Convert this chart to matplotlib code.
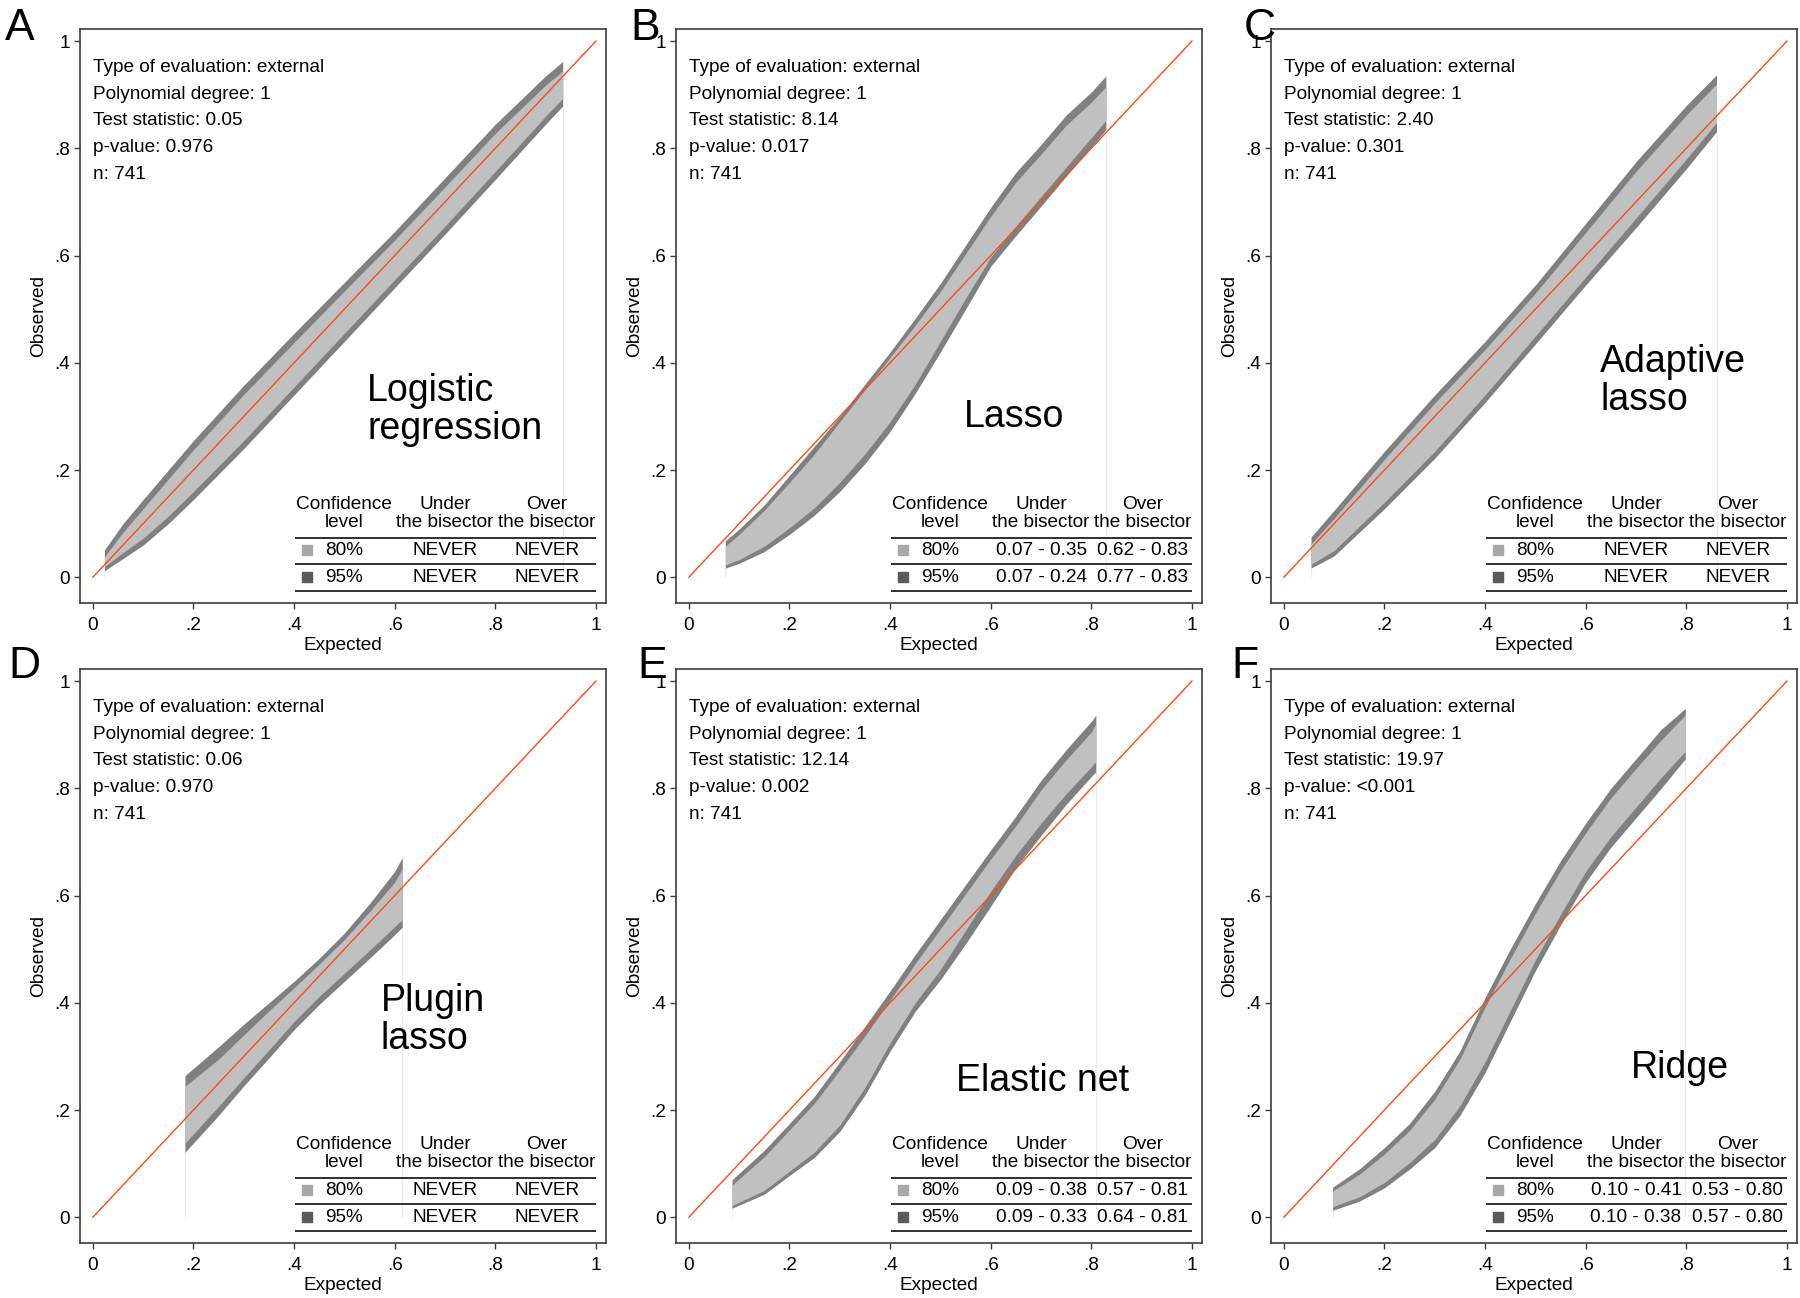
import numpy as np
import matplotlib
matplotlib.use('Agg')
from matplotlib import pyplot as plt

# ---- data (calibration belts, 6 models) ----
models = ['Logistic\nregression', 'Lasso', 'Adaptive\nlasso', 'Plugin\nlasso', 'Elastic net', 'Ridge']
panel_letters = ['A', 'B', 'C', 'D', 'E', 'F']
test_stats = ['0.05', '8.14', '2.40', '0.06', '12.14', '19.97']
p_values = ['0.976', '0.017', '0.301', '0.970', '0.002', '<0.001']
n_obs = ['741', '741', '741', '741', '741', '741']
under80 = ['NEVER', '0.07 - 0.35', 'NEVER', 'NEVER', '0.09 - 0.38', '0.10 - 0.41']
over80 = ['NEVER', '0.62 - 0.83', 'NEVER', 'NEVER', '0.57 - 0.81', '0.53 - 0.80']
under95 = ['NEVER', '0.07 - 0.24', 'NEVER', 'NEVER', '0.09 - 0.33', '0.10 - 0.38']
over95 = ['NEVER', '0.77 - 0.83', 'NEVER', 'NEVER', '0.64 - 0.81', '0.57 - 0.80']

bisector = [0, 1]

# A: logistic regression
xA = [0.023, 0.06, 0.1, 0.15, 0.2, 0.3, 0.4, 0.5, 0.6, 0.7, 0.8, 0.9, 0.934]
hi95A = [0.051, 0.10, 0.145, 0.20, 0.255, 0.358, 0.455, 0.55, 0.645, 0.745, 0.845, 0.935, 0.962]
hi80A = [0.038, 0.084, 0.128, 0.183, 0.238, 0.341, 0.438, 0.534, 0.629, 0.728, 0.828, 0.918, 0.944]
lo80A = [0.020, 0.046, 0.073, 0.114, 0.16, 0.255, 0.355, 0.455, 0.555, 0.655, 0.757, 0.86, 0.893]
lo95A = [0.012, 0.035, 0.06, 0.10, 0.145, 0.24, 0.34, 0.44, 0.54, 0.64, 0.742, 0.845, 0.879]

# B: lasso
xB = [0.0725, 0.1, 0.15, 0.2, 0.25, 0.3, 0.35, 0.4, 0.45, 0.5, 0.55, 0.6, 0.65, 0.7, 0.75, 0.8, 0.829]
hi95B = [0.068, 0.09, 0.135, 0.19, 0.245, 0.30, 0.36, 0.42, 0.483, 0.548, 0.619, 0.69, 0.755, 0.807, 0.862, 0.905, 0.935]
hi80B = [0.058, 0.08, 0.125, 0.177, 0.23, 0.29, 0.35, 0.41, 0.47, 0.533, 0.603, 0.673, 0.737, 0.789, 0.843, 0.886, 0.915]
lo80B = [0.023, 0.033, 0.058, 0.092, 0.13, 0.177, 0.23, 0.29, 0.36, 0.44, 0.52, 0.597, 0.655, 0.71, 0.765, 0.82, 0.852]
lo95B = [0.017, 0.026, 0.048, 0.08, 0.116, 0.16, 0.212, 0.272, 0.343, 0.42, 0.50, 0.58, 0.637, 0.692, 0.748, 0.802, 0.835]

# C: adaptive lasso
xC = [0.054, 0.1, 0.2, 0.3, 0.4, 0.5, 0.6, 0.7, 0.8, 0.86]
hi95C = [0.075, 0.125, 0.235, 0.34, 0.44, 0.545, 0.66, 0.775, 0.88, 0.937]
hi80C = [0.062, 0.11, 0.22, 0.325, 0.425, 0.53, 0.643, 0.757, 0.862, 0.92]
lo80C = [0.024, 0.05, 0.14, 0.235, 0.34, 0.45, 0.56, 0.67, 0.78, 0.848]
lo95C = [0.017, 0.04, 0.128, 0.222, 0.326, 0.435, 0.545, 0.652, 0.762, 0.831]

# D: plugin lasso
xD = [0.183, 0.25, 0.3, 0.35, 0.4, 0.45, 0.5, 0.55, 0.6, 0.615]
hi95D = [0.264, 0.318, 0.36, 0.40, 0.44, 0.483, 0.53, 0.585, 0.645, 0.671]
hi80D = [0.244, 0.295, 0.34, 0.385, 0.428, 0.472, 0.518, 0.57, 0.625, 0.65]
lo80D = [0.138, 0.207, 0.26, 0.312, 0.365, 0.412, 0.455, 0.498, 0.542, 0.555]
lo95D = [0.121, 0.19, 0.245, 0.297, 0.35, 0.397, 0.44, 0.483, 0.527, 0.541]

# E: elastic net
xE = [0.086, 0.15, 0.2, 0.25, 0.3, 0.35, 0.4, 0.45, 0.5, 0.55, 0.6, 0.65, 0.7, 0.75, 0.8, 0.809]
hi95E = [0.07, 0.125, 0.175, 0.226, 0.29, 0.356, 0.422, 0.49, 0.555, 0.62, 0.685, 0.748, 0.815, 0.872, 0.925, 0.936]
hi80E = [0.06, 0.113, 0.163, 0.213, 0.275, 0.338, 0.405, 0.473, 0.538, 0.603, 0.668, 0.73, 0.797, 0.853, 0.905, 0.92]
lo80E = [0.022, 0.05, 0.086, 0.122, 0.172, 0.242, 0.325, 0.40, 0.462, 0.535, 0.608, 0.675, 0.735, 0.79, 0.84, 0.85]
lo95E = [0.017, 0.043, 0.078, 0.112, 0.16, 0.228, 0.31, 0.384, 0.443, 0.51, 0.58, 0.652, 0.712, 0.77, 0.822, 0.831]

# F: ridge
xF = [0.097, 0.15, 0.2, 0.25, 0.3, 0.35, 0.4, 0.45, 0.5, 0.55, 0.6, 0.65, 0.7, 0.75, 0.798]
hi95F = [0.056, 0.09, 0.13, 0.175, 0.235, 0.31, 0.41, 0.50, 0.585, 0.665, 0.735, 0.80, 0.855, 0.91, 0.949]
hi80F = [0.049, 0.08, 0.118, 0.162, 0.22, 0.295, 0.392, 0.482, 0.567, 0.647, 0.717, 0.782, 0.837, 0.89, 0.937]
lo80F = [0.02, 0.038, 0.065, 0.102, 0.145, 0.208, 0.29, 0.385, 0.48, 0.565, 0.645, 0.71, 0.765, 0.82, 0.869]
lo95F = [0.013, 0.03, 0.055, 0.09, 0.13, 0.19, 0.27, 0.365, 0.46, 0.545, 0.625, 0.69, 0.745, 0.80, 0.855]

belts = [
    (xA, lo95A, lo80A, hi80A, hi95A),
    (xB, lo95B, lo80B, hi80B, hi95B),
    (xC, lo95C, lo80C, hi80C, hi95C),
    (xD, lo95D, lo80D, hi80D, hi95D),
    (xE, lo95E, lo80E, hi80E, hi95E),
    (xF, lo95F, lo80F, hi80F, hi95F),
]

# ---- layout ----
plt.rcParams['font.family'] = ['Liberation Sans', 'DejaVu Sans']
plt.rcParams['font.size'] = 13.7

W, H = 1800, 1298
fig = plt.figure(figsize=(W / 100, H / 100), dpi=100)

col_left = [80, 676, 1271]
row_top = [29, 669]
ax_w, ax_h = 526, 574

# model name position (axes data coords, left / vertical centre)
name_pos = [(0.545, 0.312), (0.547, 0.298), (0.629, 0.366), (0.572, 0.368), (0.532, 0.254), (0.689, 0.278)]
# panel letter origin in pixels (x, baseline)
letter_pos = [(5, 40), (630, 40), (1244, 40), (8, 678), (637, 678), (1231, 678)]

dark = '#808080'
light = '#c0c0c0'
frame_col = '#3c3c3c'

for i in range(6):
    row, col = i // 3, i % 3
    ax = fig.add_axes([col_left[col] / W, 1 - (row_top[row] + ax_h) / H, ax_w / W, ax_h / H])
    x, lo95, lo80, hi80, hi95 = belts[i]

    # faint vertical edges of the belt
    ax.vlines([x[0], x[-1]], 0, [lo95[0], lo95[-1]], color='#ececec', lw=0.8, zorder=1)
    ax.fill_between(x, lo95, hi95, color=dark, lw=0, zorder=2)
    ax.fill_between(x, lo80, hi80, color=light, lw=0, zorder=3)
    ax.plot(bisector, bisector, color='#ff4a12', lw=1.0, zorder=4)

    ax.set_xlim(-0.0255, 1.02)
    ax.set_ylim(-0.048, 1.0225)
    ticks = [0, 0.2, 0.4, 0.6, 0.8, 1]
    tlabels = ['0', '.2', '.4', '.6', '.8', '1']
    ax.set_xticks(ticks)
    ax.set_xticklabels(tlabels)
    ax.set_yticks(ticks)
    ax.set_yticklabels(tlabels)
    ax.tick_params(length=4.3, width=1.0, color=frame_col, pad=3, labelsize=13.7)
    ax.tick_params(axis='x', pad=6)
    for s in ax.spines.values():
        s.set_color(frame_col)
        s.set_linewidth(1.2)
    ax.set_xlabel('Expected', labelpad=2)
    ax.set_ylabel('Observed', labelpad=5)

    # statistics text
    stats = ['Type of evaluation: external', 'Polynomial degree: 1',
             'Test statistic: ' + test_stats[i], 'p-value: ' + p_values[i], 'n: ' + n_obs[i]]
    for k, s in enumerate(stats):
        ax.text(0.001, 0.951 - 0.05 * k, s, ha='left', va='center')

    # model name
    ax.text(name_pos[i][0], name_pos[i][1], models[i], ha='left', va='center',
            fontsize=27, linespacing=1.05)

    # table of crossings
    ax.text(0.50, 0.135, 'Confidence', ha='center', va='center')
    ax.text(0.50, 0.103, 'level', ha='center', va='center')
    ax.text(0.70, 0.135, 'Under', ha='center', va='center')
    ax.text(0.70, 0.103, 'the bisector', ha='center', va='center')
    ax.text(0.902, 0.135, 'Over', ha='center', va='center')
    ax.text(0.902, 0.103, 'the bisector', ha='center', va='center')
    ax.hlines([0.074, 0.025, -0.025], 0.401, 1.0, color='#303030', lw=1.4)
    ax.plot([0.426], [0.050], marker='s', ms=7, color='#a8a8a8', ls='none')
    ax.plot([0.426], [0.0], marker='s', ms=7, color='#5a5a5a', ls='none')
    ax.text(0.499, 0.050, '80%', ha='center', va='center')
    ax.text(0.499, 0.0, '95%', ha='center', va='center')
    ax.text(0.70, 0.050, under80[i], ha='center', va='center')
    ax.text(0.902, 0.050, over80[i], ha='center', va='center')
    ax.text(0.70, 0.0, under95[i], ha='center', va='center')
    ax.text(0.902, 0.0, over95[i], ha='center', va='center')

    fig.text(letter_pos[i][0] / W, 1 - letter_pos[i][1] / H, panel_letters[i],
             fontsize=32, ha='left', va='baseline')

fig.savefig('out.png', dpi=100)
plt.close()
